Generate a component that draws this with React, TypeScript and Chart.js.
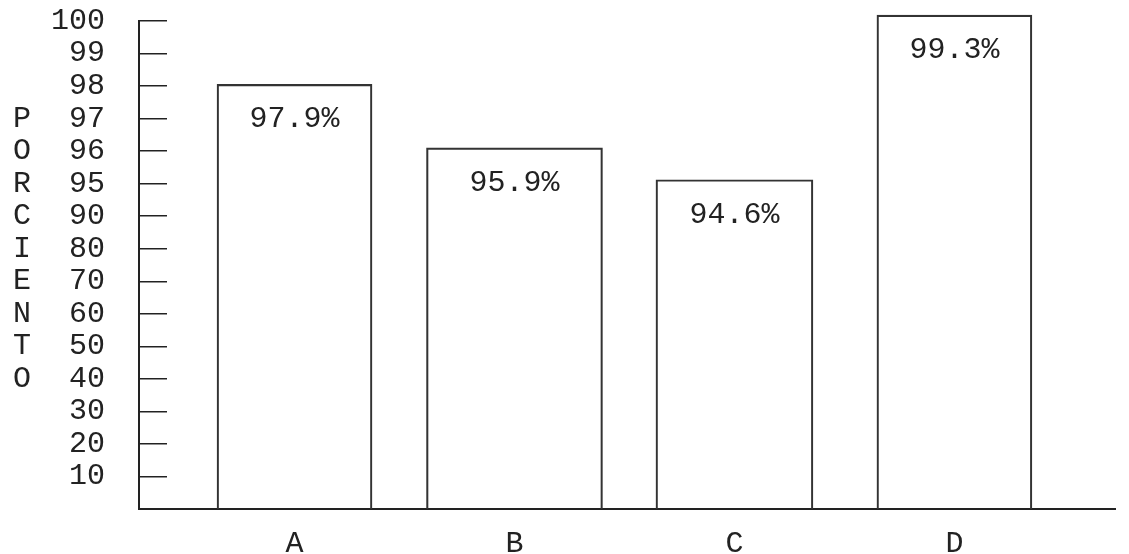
import React, { useEffect, useRef } from "react";
import { Chart, registerables, LinearScale } from "chart.js";

Chart.register(...registerables);

// ---- data ----
const CATEGORIES = ["A", "B", "C", "D"];
// printed percentages inside the bars
const VALUE_LABELS = [97.9, 95.9, 94.6, 99.3];
// heights of the bars as drawn against the (broken) axis
const BAR_TOPS = [98.05, 96.1, 95.12, 100.18];
// tick labels of the broken y axis (evenly spaced)
const Y_TICKS = [10, 20, 30, 40, 50, 60, 70, 80, 90, 95, 96, 97, 98, 99, 100];
const AXIS_TITLE = "PORCIENTO";

// ---- styles ----
const BAR_WIDTHS = [155, 176, 157, 155];
const FONT = "'Liberation Mono', 'Courier New', monospace";
const FONT_SIZE = 30;
const INK = "#222222";

// piecewise mapping of a value to its position among the evenly spaced ticks
function tickPosition(v: number): number {
  const stops = [0, ...Y_TICKS];
  for (let i = 1; i < stops.length; i++) {
    if (v <= stops[i]) return i - 1 + (v - stops[i - 1]) / (stops[i] - stops[i - 1]);
  }
  const n = stops.length - 1;
  return n + (v - stops[n]) / (stops[n] - stops[n - 1]);
}

class BrokenScale extends LinearScale {
  static id = "broken";
  static defaults = LinearScale.defaults;
  buildTicks() {
    return Y_TICKS.map((v) => ({ value: v })) as any;
  }
  getPixelForValue(value: number) {
    return this.getPixelForDecimal(tickPosition(value) / Y_TICKS.length);
  }
  getValueForPixel(_pixel: number) {
    return 0;
  }
}
Chart.register(BrokenScale as any);

const textPlugin = {
  id: "textPlugin",
  afterDatasetsDraw(chart: any) {
    const ctx = chart.ctx as CanvasRenderingContext2D;
    ctx.save();
    ctx.fillStyle = INK;
    ctx.font = `${FONT_SIZE}px ${FONT}`;
    ctx.textAlign = "center";
    ctx.textBaseline = "middle";
    chart.data.datasets.forEach((_ds: any, i: number) => {
      const el = chart.getDatasetMeta(i).data[0];
      if (!el) return;
      ctx.fillText(`${VALUE_LABELS[i].toFixed(1)}%`, el.x, el.y + 35);
    });
    const yScale = chart.scales.y;
    const letters = AXIS_TITLE.split("");
    const startIdx = Y_TICKS.indexOf(97);
    letters.forEach((ch, k) => {
      const tv = Y_TICKS[startIdx - k];
      ctx.fillText(ch, 22, yScale.getPixelForValue(tv));
    });
    ctx.restore();
  },
};

export default function App() {
  const ref = useRef<HTMLCanvasElement>(null);
  useEffect(() => {
    const datasets = CATEGORIES.map((c, i) => ({
      label: c,
      data: [{ x: i, y: BAR_TOPS[i] }],
      backgroundColor: "rgba(255,255,255,0)",
      borderColor: "#333333",
      borderWidth: 1.5,
      barThickness: BAR_WIDTHS[i],
      grouped: false,
      clip: false as any,
    }));
    const chart = new Chart(ref.current!, {
      type: "bar",
      data: { datasets },
      plugins: [textPlugin],
      options: {
        animation: false,
        responsive: false,
        events: [],
        layout: { padding: { top: 21, right: 14, left: 0, bottom: 0 } },
        plugins: { legend: { display: false }, tooltip: { enabled: false } },
        scales: {
          x: {
            type: "linear",
            min: -0.707,
            max: 3.73,
            offset: false,
            afterBuildTicks: (scale: any) => {
              scale.ticks = CATEGORIES.map((_, i) => ({ value: i }));
            },
            afterFit: (scale: any) => {
              scale.height = 45;
              scale.paddingLeft = 0;
              scale.paddingRight = 0;
            },
            grid: { display: false, drawTicks: false },
            border: { display: true, color: INK, width: 2 },
            ticks: {
              autoSkip: false,
              maxRotation: 0,
              padding: 17,
              color: INK,
              font: { family: FONT, size: FONT_SIZE },
              callback: (v: any) => CATEGORIES[v as number] ?? "",
            },
          },
          y: {
            type: "broken" as any,
            min: 0,
            max: 100,
            afterFit: (scale: any) => {
              scale.width = 139;
              scale.paddingTop = 0;
              scale.paddingBottom = 0;
            },
            grid: {
              display: true,
              drawOnChartArea: false,
              drawTicks: true,
              tickLength: -28,
              color: INK,
              lineWidth: 1.5,
            },
            border: { display: true, color: INK, width: 2 },
            ticks: {
              autoSkip: false,
              padding: 62,
              color: INK,
              font: { family: FONT, size: FONT_SIZE },
              callback: (v: any) => String(v),
            },
          },
        },
      } as any,
    });
    return () => chart.destroy();
  }, []);
  return (
    <div style={{ position: "absolute", left: 0, top: 0, width: 1129, height: 554, background: "#fff" }}>
      <canvas ref={ref} width={1129} height={554} style={{ width: 1129, height: 554 }} />
    </div>
  );
}
